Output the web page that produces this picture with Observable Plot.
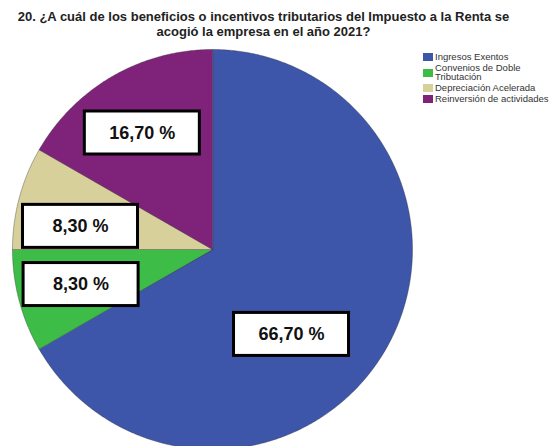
<!DOCTYPE html>
<html>
<head>
<meta charset="utf-8">
<script src="https://cdn.jsdelivr.net/npm/d3@7"></script>
<script src="https://cdn.jsdelivr.net/npm/@observablehq/plot@0.6"></script>
<style>
  html, body { margin: 0; padding: 0; background: #fff; }
  #wrap { position: relative; width: 556px; height: 446px; overflow: hidden; font-family: "Liberation Sans", Arial, sans-serif; }
  #title { position: absolute; top: 9px; left: 0; width: 527px; text-align: center; font-weight: bold; font-size: 13px; line-height: 15px; color: #222; z-index: 2; }
  #chart { position: absolute; top: 0; left: 0; }
  #legend { position: absolute; left: 423px; top: 53px; font-size: 9.5px; color: #333; line-height: 8.5px; }
  .item { display: flex; align-items: center; margin-bottom: 2.5px; }
  .sw { width: 10px; height: 8px; flex: none; margin-right: 2px; }
  .lab { max-width: 121px; }
</style>
</head>
<body>
<div id="wrap">
  <div id="title"></div>
  <div id="chart"></div>
  <div id="legend"></div>
</div>
<script>
const titleLines = ["20. ¿A cuál de los beneficios o incentivos tributarios del Impuesto a la Renta se", "acogió la empresa en el año 2021?"];
const categories = ["Ingresos Exentos", "Convenios de Doble Tributación", "Depreciación Acelerada", "Reinversión de actividades"];
const percents = [66.7, 8.3, 8.3, 16.7];
const labels = ["66,70 %", "8,30 %", "8,30 %", "16,70 %"];
const colors = ["#3e56aa", "#3dbd48", "#d8d09a", "#7e2379"];

// layout (not data): label placement radius fraction and angular shift (degrees)
const labelR = [0.58, 0.68, 0.67, 0.68];
const labelTurn = [17, 0, -5, -1];

const arcs = d3.pie().sort(null).value(d => d)(percents);
const slicePts = [];
arcs.forEach((a, i) => {
  const cat = categories[i];
  slicePts.push({cat, x: 0, y: 0});
  const n = Math.max(8, Math.ceil((a.endAngle - a.startAngle) / (Math.PI / 360)));
  for (let k = 0; k <= n; k++) {
    const t = a.startAngle + (a.endAngle - a.startAngle) * k / n;
    slicePts.push({cat, x: Math.sin(t), y: Math.cos(t)});
  }
});

const labelData = arcs.map((a, i) => {
  const t = (a.startAngle + a.endAngle) / 2 + labelTurn[i] * Math.PI / 180;
  return {label: labels[i], x: labelR[i] * Math.sin(t), y: labelR[i] * Math.cos(t)};
});
const bw = 0.575, bh = 0.215;

const W = 556, H = 446, R = 200, cx = 212, cy = 249;
const chart = Plot.plot({
  width: W, height: H,
  margin: 0,
  x: {domain: [-cx / R, (W - cx) / R], axis: null},
  y: {domain: [-(H - cy) / R, cy / R], axis: null},
  color: {domain: categories, range: colors},
  style: {fontFamily: "'Liberation Sans', Arial, sans-serif"},
  marks: [
    Plot.line(slicePts, {x: "x", y: "y", z: "cat", fill: "cat", stroke: "#2a2a2a", strokeOpacity: 0.45, strokeWidth: 0.8, curve: "linear-closed"}),
    Plot.rect(labelData, {x1: d => d.x - bw / 2, x2: d => d.x + bw / 2, y1: d => d.y - bh / 2, y2: d => d.y + bh / 2, fill: "white", stroke: "black", strokeWidth: 3}),
    Plot.text(labelData, {x: "x", y: "y", text: "label", fontSize: 18, fontWeight: "bold", fill: "#111"})
  ]
});
document.getElementById("chart").appendChild(chart);

document.getElementById("title").innerHTML = titleLines.join("<br>");
const leg = document.getElementById("legend");
categories.forEach((c, i) => {
  const it = document.createElement("div");
  it.className = "item";
  it.innerHTML = `<span class="sw" style="background:${colors[i]}"></span><span class="lab">${c}</span>`;
  leg.appendChild(it);
});
</script>
</body>
</html>
